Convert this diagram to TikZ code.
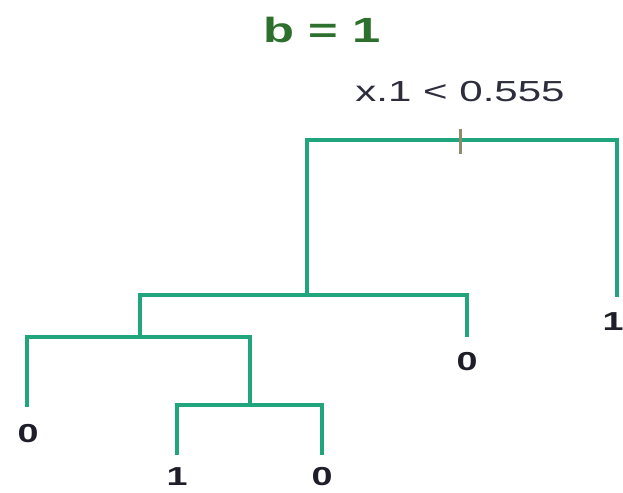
\documentclass[tikz,border=0pt]{standalone}
\usepackage{fontspec}
\setmainfont{Liberation Sans}[FakeStretch=1.45]
\definecolor{branchcol}{RGB}{32,165,125}
\definecolor{titlecol}{RGB}{45,112,45}
\definecolor{labelcol}{RGB}{45,45,60}
\definecolor{leafcol}{RGB}{30,30,40}
\definecolor{tickcol}{RGB}{140,140,110}
\begin{document}
\begin{tikzpicture}[x=1pt,y=-1pt,
  branch/.style={draw=branchcol,line width=3.5pt,line join=miter},
  leaflabel/.style={text=leafcol,inner sep=0pt,font=\bfseries\fontsize{26}{26}\selectfont},
  splitlabel/.style={text=labelcol,inner sep=0pt,font=\fontsize{29}{29}\selectfont},
  titlelabel/.style={text=titlecol,inner sep=0pt,font=\bfseries\fontsize{35}{35}\selectfont}]
\useasboundingbox (0,0) rectangle (623,492);

% title and split rule
\node[titlelabel] (title) at (322,30) {b = 1};
\node[splitlabel] (rule) at (460,92) {x.1 < 0.555};

% split points and leaf ends
\coordinate (root) at (460,140);
\coordinate (n1) at (307,295);
\coordinate (lr) at (617,297);
\coordinate (n2) at (140,337);
\coordinate (la) at (467,337);
\coordinate (lb) at (27,407);
\coordinate (n3) at (250,405);
\coordinate (lc) at (177,455);
\coordinate (ld) at (322,455);

% branches
\draw[branch] (n1) |- (root) -| (lr);
\draw[branch] (n2) |- (n1) -| (la);
\draw[branch] (lb) |- (n2) -| (n3);
\draw[branch] (lc) |- (n3) -| (ld);

% split marker
\coordinate (tktop) at (460,129);
\coordinate (tkbot) at (460,154);
\draw[draw=tickcol,line width=3pt] (tktop) -- (tkbot);

% leaf classes
\node[leaflabel] (vr) at (613,322) {1};
\node[leaflabel] (va) at (467,362) {0};
\node[leaflabel] (vb) at (28,434) {0};
\node[leaflabel] (vc) at (177,477) {1};
\node[leaflabel] (vd) at (322,477) {0};
\end{tikzpicture}
\end{document}
